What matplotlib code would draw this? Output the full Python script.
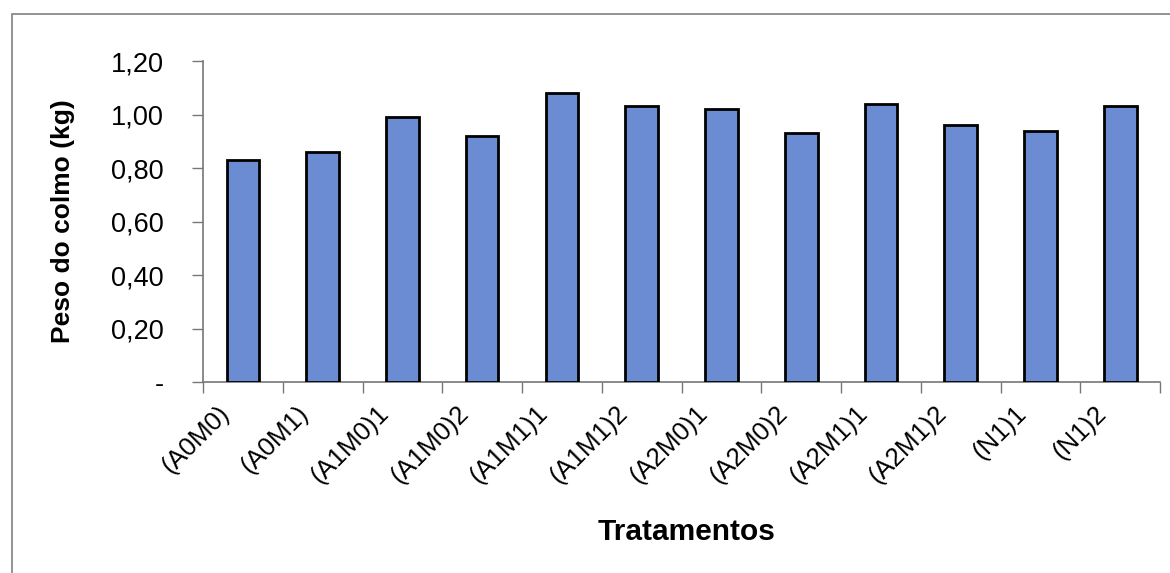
import numpy as np
import matplotlib.pyplot as plt
from matplotlib.patches import Rectangle
from matplotlib.ticker import FixedLocator, FuncFormatter

plt.rcParams['font.family'] = ['Liberation Sans', 'DejaVu Sans']

# tratamentos e peso medio do colmo (kg)
tratamentos = ['(A0M0)', '(A0M1)', '(A1M0)1', '(A1M0)2', '(A1M1)1', '(A1M1)2',
               '(A2M0)1', '(A2M0)2', '(A2M1)1', '(A2M1)2', '(N1)1', '(N1)2']
peso = [0.83, 0.86, 0.99, 0.92, 1.08, 1.03, 1.02, 0.93, 1.04, 0.96, 0.94, 1.03]
yticks = [0.0, 0.2, 0.4, 0.6, 0.8, 1.0, 1.2]

fig = plt.figure(figsize=(11.7, 5.73), dpi=100)
ax = fig.add_axes([0.1735, 0.3333, 0.818, 0.5602])

# moldura externa do grafico (sai pela direita e por baixo)
fig.patches.append(Rectangle((0.010, -0.05), 1.1, 0.9756 + 0.05, transform=fig.transFigure,
                             fill=False, edgecolor='#8a8a8a', linewidth=1.3))

x = np.arange(len(tratamentos))
ax.bar(x, peso, width=0.41, color='#6b8cd2', edgecolor='black', linewidth=2.0, zorder=3)

ax.set_xlim(-0.5, len(tratamentos) - 0.5)
ax.set_ylim(0, 1.2)
ax.set_yticks(yticks)
ax.yaxis.set_major_formatter(FuncFormatter(
    lambda v, p: '-' if v == 0 else f'{v:.2f}'.replace('.', ',')))

# ticks do eixo x entre as categorias; rotulos inclinados um pouco a esquerda do centro
ax.xaxis.set_major_locator(FixedLocator(np.arange(-0.5, len(tratamentos), 1.0)))
ax.xaxis.set_major_formatter(FuncFormatter(lambda v, p: ''))
ax.xaxis.set_minor_locator(FixedLocator(x - 0.22))
ax.set_xticklabels(tratamentos, minor=True, rotation=45, ha='right', va='center',
                   rotation_mode='anchor', fontsize=18.5)
ax.tick_params(axis='x', which='minor', length=0, pad=20)
ax.tick_params(axis='x', which='major', length=8, color='#777777', width=1)
ax.tick_params(axis='y', length=8, color='#777777', width=1, pad=20, labelsize=19.5)

for s in ['top', 'right']:
    ax.spines[s].set_visible(False)
for s in ['left', 'bottom']:
    ax.spines[s].set_color('#777777')
    ax.spines[s].set_linewidth(1.2)

ax.set_ylabel('Peso do colmo (kg)', fontsize=19, fontweight='bold')
ax.yaxis.set_label_coords(-0.134, 0.5)
ax.set_xlabel('Tratamentos', fontsize=21.5, fontweight='bold', va='center')
ax.xaxis.set_label_coords(0.505, -0.467)

fig.savefig('out.png', dpi=100)
